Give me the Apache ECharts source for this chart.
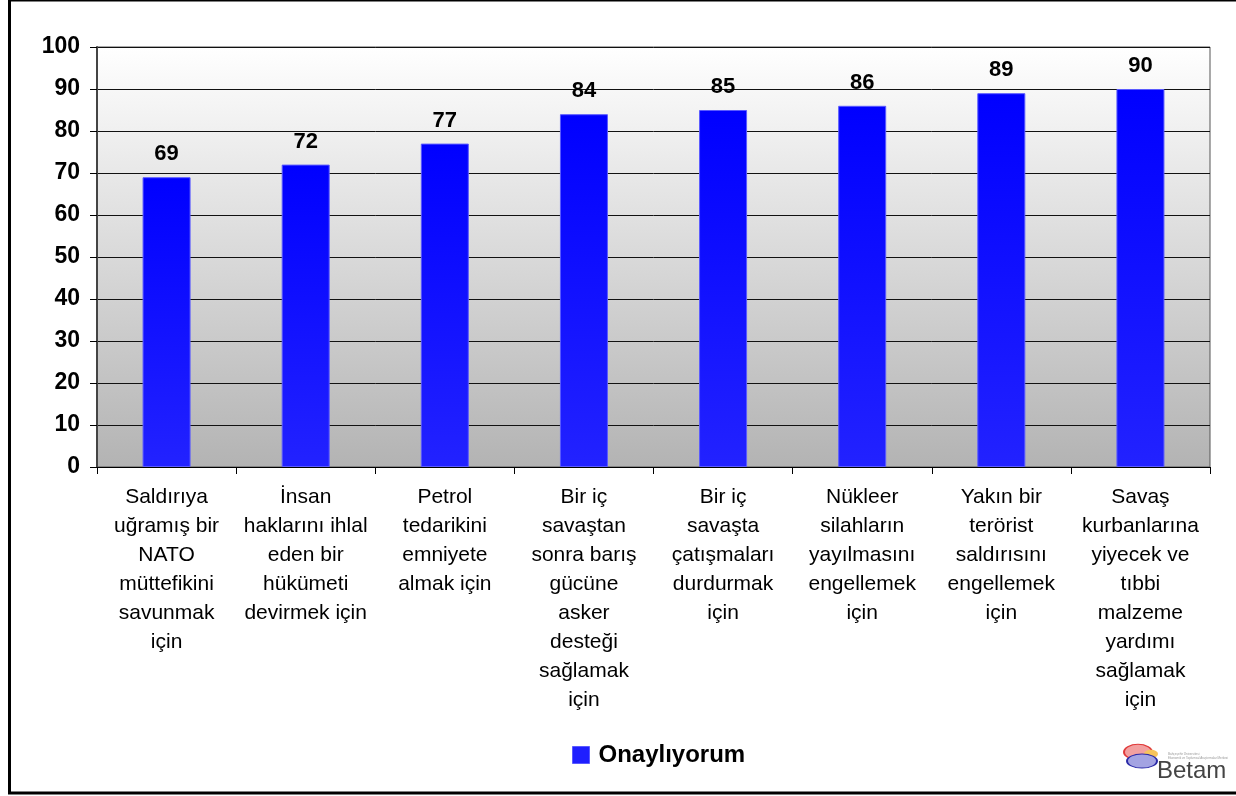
<!DOCTYPE html>
<html>
<head>
<meta charset="utf-8">
<script src="https://cdn.jsdelivr.net/npm/echarts@6/dist/echarts.min.js"></script>
<style>
html,body{margin:0;padding:0;background:#fff;}
#chart{width:1236px;height:796px;}
</style>
</head>
<body>
<div id="chart"></div>
<script>
const categories = [
  "Saldırıya\nuğramış bir\nNATO\nmüttefikini\nsavunmak\niçin",
  "İnsan\nhaklarını ihlal\neden bir\nhükümeti\ndevirmek için",
  "Petrol\ntedarikini\nemniyete\nalmak için",
  "Bir iç\nsavaştan\nsonra barış\ngücüne\nasker\ndesteği\nsağlamak\niçin",
  "Bir iç\nsavaşta\nçatışmaları\ndurdurmak\niçin",
  "Nükleer\nsilahların\nyayılmasını\nengellemek\niçin",
  "Yakın bir\nterörist\nsaldırısını\nengellemek\niçin",
  "Savaş\nkurbanlarına\nyiyecek ve\ntıbbi\nmalzeme\nyardımı\nsağlamak\niçin"
];
const seriesName = "Onaylıyorum";
const values = [69, 72, 77, 84, 85, 86, 89, 90];
const yTicks = [0, 10, 20, 30, 40, 50, 60, 70, 80, 90, 100];

const FONT = "'Liberation Sans', Arial, sans-serif";
const chart = echarts.init(document.getElementById('chart'));
chart.setOption({
  animation: false,
  backgroundColor: '#ffffff',
  grid: {
    left: 97, right: 26, top: 47, bottom: 329,
    show: true,
    borderColor: '#555555', borderWidth: 1,
    backgroundColor: new echarts.graphic.LinearGradient(0, 0, 0, 1, [
      {offset: 0, color: '#ffffff'},
      {offset: 1, color: '#b3b3b3'}
    ])
  },
  legend: {
    left: 567, top: 738,
    itemWidth: 17, itemHeight: 17, icon: 'rect',
    textStyle: {fontFamily: FONT, fontSize: 24, fontWeight: 'bold', color: '#000', padding: [0, 0, 0, 4]},
    data: [{name: seriesName, itemStyle: {color: '#1f1fff', borderColor: '#5a5aff', borderWidth: 1}}]
  },
  xAxis: {
    type: 'category',
    data: categories,
    axisLine: {show: true, lineStyle: {color: '#000', width: 1}},
    axisTick: {show: true, length: 7, lineStyle: {color: '#000'}},
    axisLabel: {
      interval: 0, margin: 16,
      fontFamily: FONT, fontSize: 21, lineHeight: 29, color: '#000', align: 'center'
    },
    splitLine: {show: false}
  },
  yAxis: {
    type: 'value',
    min: yTicks[0], max: yTicks[yTicks.length - 1], interval: 10,
    axisLine: {show: true, lineStyle: {color: '#444', width: 2}},
    axisTick: {show: true, length: 7, lineStyle: {color: '#000'}},
    axisLabel: {margin: 17, fontFamily: FONT, fontSize: 23, fontWeight: 'bold', color: '#000'},
    splitLine: {show: true, lineStyle: {color: '#111', width: 1}}
  },
  series: [{
    name: seriesName,
    type: 'bar',
    data: values,
    barWidth: 48,
    itemStyle: {
      color: new echarts.graphic.LinearGradient(0, 0, 0, 1, [
        {offset: 0, color: '#0000ff'},
        {offset: 1, color: '#2222ff'}
      ]),
      borderColor: '#5a5aff', borderWidth: 1
    },
    label: {
      show: true, position: 'top', distance: 12,
      fontFamily: FONT, fontSize: 22, fontWeight: 'bold', color: '#000'
    }
  }],
  graphic: [
    {type: 'rect', silent: true, z: 100,
     shape: {x: 9.5, y: 0, width: 1300, height: 793},
     style: {fill: null, stroke: '#000', lineWidth: 3}},
    {type: 'circle', silent: true, z: 100, x: 1138, y: 752, scaleY: 0.55,
     shape: {cx: 0, cy: 0, r: 14}, style: {fill: '#f2a0a0', stroke: '#e03a3a', lineWidth: 2}},
    {type: 'circle', silent: true, z: 101, x: 1151, y: 754, scaleY: 0.6,
     shape: {cx: 0, cy: 0, r: 7}, style: {fill: '#f6c45c'}},
    {type: 'circle', silent: true, z: 102, x: 1142, y: 761, scaleY: 0.47,
     shape: {cx: 0, cy: 0, r: 15}, style: {fill: '#a3a3e2', stroke: '#2b2ba8', lineWidth: 2}},
    {type: 'text', silent: true, z: 103, x: 1168, y: 752,
     style: {text: 'Bahçeşehir Üniversitesi\nEkonomik ve Toplumsal Araştırmalar Merkezi', fontFamily: FONT, fontSize: 3, lineHeight: 4, fill: '#999'}},
    {type: 'text', silent: true, z: 103, x: 1157, y: 759,
     style: {text: 'Betam', fontFamily: FONT, fontSize: 24, fill: '#444'}}
  ]
});
</script>
</body>
</html>
